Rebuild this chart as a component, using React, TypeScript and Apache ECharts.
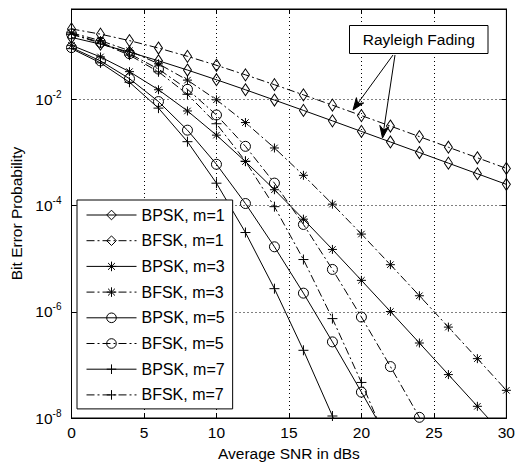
import React, { useEffect, useRef } from 'react';
import * as echarts from 'echarts';

const FONT = '"Liberation Sans", Arial, Helvetica, sans-serif';

// Average SNR (dB) sample points
const snr = [0, 2, 4, 6, 8, 10, 12, 14, 16, 18, 20, 22, 24, 26, 28, 30];

// Bit error probabilities (null = beyond the plotted range)
const bpskM1 = [0.146, 0.109, 0.0771, 0.053, 0.0355, 0.0233, 0.0151, 0.00966, 0.00617, 0.00392, 0.00248, 0.00157, 0.000993, 0.000627, 0.000396, 0.00025];
const bfskM1 = [0.211, 0.168, 0.127, 0.092, 0.0643, 0.0436, 0.0288, 0.0188, 0.0121, 0.00774, 0.00493, 0.00313, 0.00198, 0.00125, 0.000791, 0.000499];
const bpskM3 = [0.1035, 0.0626, 0.0331, 0.0151, 0.00602, 0.00211, 6.72e-4, 1.98e-4, 5.53e-5, 1.49e-5, 3.9e-6, 1.01e-6, 2.58e-7, 6.56e-8, 1.66e-8, 4.18e-9];
const bfskM3 = [0.178, 0.127, 0.082, 0.0465, 0.0229, 0.00976, 0.00364, 0.00121, 3.7e-4, 1.06e-4, 2.9e-5, 7.69e-6, 2.0e-6, 5.14e-7, 1.31e-7, 3.32e-8];
const bpskM5 = [0.0938, 0.0527, 0.0244, 0.00905, 0.00262, 5.97e-4, 1.09e-4, 1.67e-5, 2.24e-6, 2.71e-7, 3.07e-8, 3.36e-9, null, null, null, null];
const bfskM5 = [0.17, 0.118, 0.072, 0.037, 0.0154, 0.00506, 0.0013, 2.64e-4, 4.4e-5, 6.26e-6, 7.95e-7, 9.29e-8, 1.03e-8, 1.1e-9, null, null];
const bpskM7 = [0.0896, 0.0484, 0.0209, 0.00681, 0.00159, 2.63e-4, 3.1e-5, 2.72e-6, 1.88e-7, 1.09e-8, 5.55e-10, null, null, null, null, null];
const bfskM7 = [0.167, 0.114, 0.0677, 0.0329, 0.0124, 0.00346, 6.83e-4, 9.51e-5, 9.61e-6, 7.43e-7, 4.67e-8, 2.52e-9, null, null, null, null];

const seriesNames = ['BPSK, m=1', 'BFSK, m=1', 'BPSK, m=3', 'BFSK, m=3', 'BPSK, m=5', 'BFSK, m=5', 'BPSK, m=7', 'BFSK, m=7'];
const seriesValues = [bpskM1, bfskM1, bpskM3, bfskM3, bpskM5, bfskM5, bpskM7, bfskM7];

const xLabel = 'Average SNR in dBs';
const yLabel = 'Bit Error Probability';
const annotationText = 'Rayleigh Fading';

const SYMBOLS: Record<string, { path: string; size: number | number[] }> = {
  diamond: { path: 'path://M0,-6L4,0L0,6L-4,0Z', size: [8, 12] },
  star: { path: 'path://M0,-5L0,5M-5,0L5,0M-3.6,-3.6L3.6,3.6M-3.6,3.6L3.6,-3.6', size: 9 },
  circle: { path: 'path://M5,0A5,5,0,1,1,-5,0A5,5,0,1,1,5,0Z', size: 10 },
  plus: { path: 'path://M0,-5L0,5M-5,0L5,0', size: 10 },
};
const markerOf = ['diamond', 'diamond', 'star', 'star', 'circle', 'circle', 'plus', 'plus'];
const DASH_DOT = [8, 3, 2, 3];

function arrowHead(sx: number, sy: number, tx: number, ty: number, len = 12, half = 4.5, notch = 8) {
  const dx = tx - sx, dy = ty - sy;
  const L = Math.hypot(dx, dy);
  const ux = dx / L, uy = dy / L;
  const nx = -uy, ny = ux;
  const bx = tx - ux * len, by = ty - uy * len;
  return {
    head: [[tx, ty], [bx + nx * half, by + ny * half], [tx - ux * notch, ty - uy * notch], [bx - nx * half, by - ny * half]],
    tail: [tx - ux * notch, ty - uy * notch],
  };
}

export default function App() {
  const ref = useRef<HTMLDivElement>(null);

  useEffect(() => {
    if (!ref.current) return;
    const chart = echarts.init(ref.current, undefined, { renderer: 'svg' });

    const series = seriesNames.map((name, i) => {
      const sym = SYMBOLS[markerOf[i]];
      const isFsk = name.startsWith('BFSK');
      const data: number[][] = [];
      seriesValues[i].forEach((v, j) => {
        if (v != null) data.push([snr[j], v as number]);
      });
      return {
        type: 'line',
        name,
        data,
        symbol: sym.path,
        symbolSize: sym.size,
        showSymbol: true,
        showAllSymbol: true,
        clip: true,
        lineStyle: { color: '#000', width: 1, type: isFsk ? DASH_DOT : 'solid' },
        itemStyle: { color: 'transparent', borderColor: '#000', borderWidth: 1 },
        emphasis: { disabled: true },
        z: 3,
      };
    });

    const arrows = [
      { s: [393, 55], t: [353, 110] },
      { s: [395, 55], t: [382.5, 138] },
    ];
    const arrowGraphics: any[] = [];
    arrows.forEach((a) => {
      const ah = arrowHead(a.s[0], a.s[1], a.t[0], a.t[1]);
      arrowGraphics.push({
        type: 'line',
        shape: { x1: a.s[0], y1: a.s[1], x2: ah.tail[0], y2: ah.tail[1] },
        style: { stroke: '#000', lineWidth: 1 },
        z: 100,
      });
      arrowGraphics.push({
        type: 'polygon',
        shape: { points: ah.head },
        style: { fill: '#000', stroke: '#000', lineWidth: 1 },
        z: 100,
      });
    });

    const axisCommon = {
      axisLine: { show: true, onZero: false, lineStyle: { color: '#000', width: 1 } },
      axisTick: { show: true, inside: true, length: 5, lineStyle: { color: '#000', width: 1 } },
    };

    chart.setOption({
      animation: false,
      backgroundColor: '#fff',
      grid: { left: 71.5, right: 3.5, top: 9, bottom: 45.5, show: true, borderColor: '#000', borderWidth: 1, backgroundColor: 'transparent' },
      legend: {
        orient: 'vertical',
        left: 77,
        top: 200,
        padding: [7, 8, 6, 9],
        itemGap: 9.7,
        itemWidth: 50,
        itemHeight: 12,
        backgroundColor: '#fff',
        borderColor: '#000',
        borderWidth: 1,
        borderRadius: 0,
        selectedMode: false,
        data: seriesNames,
        lineStyle: { width: 1, color: '#000' },
        itemStyle: { borderWidth: 1, borderColor: '#000', color: 'transparent' },
        textStyle: { fontSize: 16, color: '#000', fontFamily: FONT },
      },
      xAxis: [
        {
          type: 'value',
          min: 0,
          max: 30,
          interval: 5,
          name: xLabel,
          nameLocation: 'middle',
          nameGap: 27,
          nameTextStyle: { fontSize: 15.5, color: '#000', fontFamily: FONT },
          ...axisCommon,
          axisLabel: { fontSize: 15.5, color: '#000', margin: 6, fontFamily: FONT },
          splitLine: { show: true, lineStyle: { color: '#000', width: 1, type: [1, 3] } },
        },
        {
          type: 'value',
          position: 'top',
          min: 0,
          max: 30,
          interval: 5,
          ...axisCommon,
          axisLabel: { show: false },
          splitLine: { show: false },
        },
      ],
      yAxis: [
        {
          type: 'log',
          logBase: 100,
          min: 1e-8,
          max: 0.5,
          name: yLabel,
          nameLocation: 'middle',
          nameGap: 46,
          nameTextStyle: { fontSize: 15.5, color: '#000', fontFamily: FONT },
          ...axisCommon,
          axisLabel: {
            margin: 10,
            color: '#000',
            fontFamily: FONT,
            formatter: (v: number) => {
              const e = Math.log10(v);
              const r = Math.round(e);
              if (Math.abs(e - r) > 1e-6) return '';
              return `{b|10}{s|${r}}`;
            },
            rich: {
              b: { fontSize: 15.5, lineHeight: 20, color: '#000', fontFamily: FONT },
              s: { fontSize: 10, lineHeight: 10, verticalAlign: 'top', color: '#000', fontFamily: FONT },
            },
          },
          splitLine: { show: true, lineStyle: { color: '#000', width: 1, type: [1, 3] } },
        },
        {
          type: 'log',
          logBase: 100,
          min: 1e-8,
          max: 0.5,
          position: 'right',
          ...axisCommon,
          axisLabel: { show: false },
          splitLine: { show: false },
        },
      ],
      series,
      graphic: [
        {
          type: 'rect',
          shape: { x: 349.5, y: 25.5, width: 138.5, height: 28 },
          style: { fill: '#fff', stroke: '#000', lineWidth: 1 },
          z: 100,
        },
        {
          type: 'text',
          x: 418.75,
          y: 39.5,
          style: { text: annotationText, fontSize: 15.5, fontFamily: FONT, fill: '#000', align: 'center', verticalAlign: 'middle' },
          z: 101,
        },
        ...arrowGraphics,
      ],
    });

    return () => chart.dispose();
  }, []);

  return <div ref={ref} style={{ position: 'fixed', left: 0, top: 0, width: 518, height: 466, background: '#fff' }} />;
}
